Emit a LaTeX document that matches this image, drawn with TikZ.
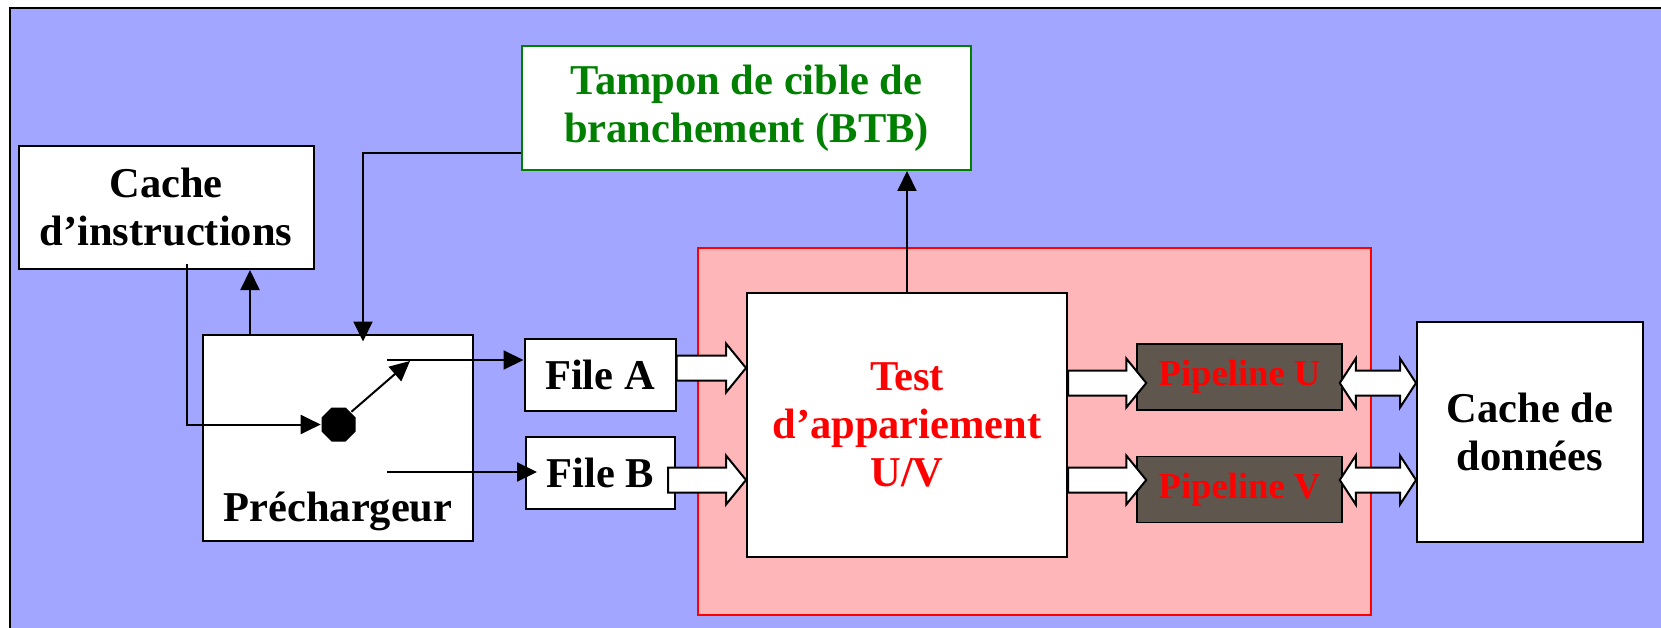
\documentclass[tikz,border=0pt]{standalone}
\usepackage{fontspec}
\setmainfont{Liberation Serif}
\usetikzlibrary{shapes.geometric,arrows.meta,calc}

\definecolor{bgblue}{RGB}{163,166,255}
\definecolor{pinkzone}{RGB}{255,182,185}
\definecolor{pipebrown}{RGB}{95,87,78}
\definecolor{btbgreen}{RGB}{0,128,0}

\newcommand{\fatarrow}[2]{%
  \draw[fatarrow] let \p1=(#1), \p2=(#2) in
    (\x1,\y1+12.5pt) -- (\x2-20pt,\y1+12.5pt) -- (\x2-20pt,\y1+24.5pt) -- (\x2,\y1)
    -- (\x2-20pt,\y1-24.5pt) -- (\x2-20pt,\y1-12.5pt) -- (\x1,\y1-12.5pt) -- cycle;}
\newcommand{\dblarrow}[2]{%
  \draw[fatarrow] let \p1=(#1), \p2=(#2) in
    (\x1,\y1) -- (\x1+16pt,\y1+24.5pt) -- (\x1+16pt,\y1+12.5pt) -- (\x2-16pt,\y1+12.5pt)
    -- (\x2-16pt,\y1+24.5pt) -- (\x2,\y1) -- (\x2-16pt,\y1-24.5pt) -- (\x2-16pt,\y1-12.5pt)
    -- (\x1+16pt,\y1-12.5pt) -- (\x1+16pt,\y1-24.5pt) -- cycle;}

\begin{document}
\begin{tikzpicture}[x=1pt,y=-1pt,>={Triangle[length=20pt,width=19pt]},line width=2pt,
    font=\fontsize{42.5}{48}\selectfont\bfseries,
    unit/.style={draw,fill=white,align=center,inner sep=0pt},
    pipe/.style={draw,fill=pipebrown,text=red,inner sep=0pt,line width=1.5pt,
      minimum width=205pt,minimum height=66pt,font=\fontsize{36.6}{42}\selectfont\bfseries},
    fatarrow/.style={draw,fill=white,line width=2pt,line join=miter}]
        \useasboundingbox (0,0) rectangle (1661,628);
        \begin{scope}
            \clip (0,0) rectangle (1661,628);
            \fill[bgblue] (10,8) rectangle (1690,650);
            \draw[line width=2.5pt] (10,650) -- (10,8) -- (1690,8);
        \end{scope}
        \node[draw=red,fill=pinkzone,minimum width=673pt,minimum height=367pt] (uvzone) at (1034.5,431.5) {};
        \node[unit,minimum width=295pt,minimum height=123pt] (icache) at (166,207.5) {Cache\\d’instructions};
        \node[unit,draw=btbgreen,text=btbgreen,minimum width=449pt,minimum height=124pt] (btb) at (746.5,108) {Tampon de cible de\\branchement (BTB)};
        \node[unit,minimum width=270pt,minimum height=206pt,label={[anchor=base,yshift=20.5pt]south:Préchargeur}] (pre) at (338,437.5) {};
        \node[unit,minimum width=151pt,minimum height=72pt] (fileA) at (600,375) {File A};
        \node[unit,minimum width=149pt,minimum height=72pt] (fileB) at (600.5,473) {File B};
        \node[unit,text=red,minimum width=320pt,minimum height=264pt] (test) at (907,425) {Test\\d’appariement\\U/V};
        \node[pipe] (pipeU) at (1239.5,377) {Pipeline U};
        \node[pipe] (pipeV) at (1239.5,489.5) {Pipeline V};
        \node[unit,minimum width=226pt,minimum height=220pt] (dcache) at (1530,432) {Cache de\\données};
        \node[regular polygon,regular polygon sides=8,fill=black,inner sep=0pt,minimum size=36.8pt] (hub) at (338.7,424.5) {};
        \coordinate (armtip) at (410,361);
        \coordinate (swA) at (387,360);
        \coordinate (swB) at (387,472);
        \coordinate (ru) at (0,383);
        \coordinate (rv) at (0,480);
        \draw[->] ([yshift=18pt]btb.south west) -| ([xshift=25pt,yshift=-8pt]pre.north);
        \draw[->] ([xshift=21pt,yshift=6pt]icache.south) |- (hub.west);
        \draw[->] ([xshift=-88pt]pre.north) -- ([xshift=-88pt]pre.north |- icache.south);
        \draw[->] (hub.45) -- (armtip);
        \draw[->] (swA) -- (fileA.west |- swA);
        \draw[->] (swB) -- ([xshift=12pt]fileB.west |- swB);
        \draw[->] (test.north) -- (test.north |- btb.south);
        \fatarrow{$(fileA.east)+(0,-7)$}{test.west}
        \fatarrow{$(fileB.east)+(-8,7)$}{test.west}
        \fatarrow{test.east |- ru}{$(pipeU.west)+(10,0)$}
        \fatarrow{test.east |- rv}{$(pipeV.west)+(10,0)$}
        \dblarrow{$(pipeU.east |- ru)+(-3,0)$}{dcache.west |- ru}
        \dblarrow{$(pipeV.east |- rv)+(-3,0)$}{dcache.west |- rv}
    \end{tikzpicture}
\end{document}
